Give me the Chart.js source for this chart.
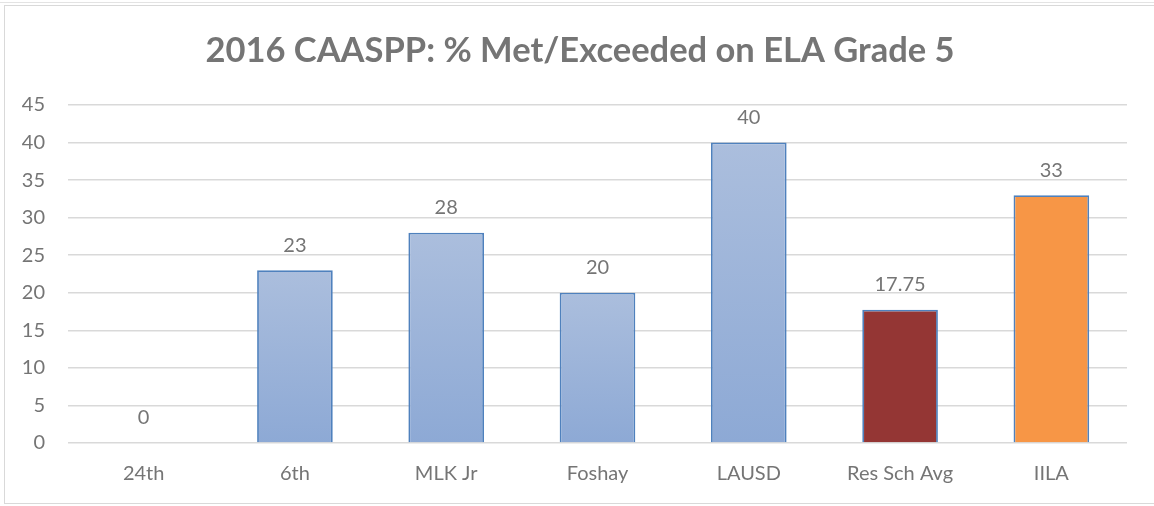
<!DOCTYPE html>
<html>
<head>
<meta charset="utf-8">
<script src="https://cdn.jsdelivr.net/npm/chart.js@4/dist/chart.umd.min.js"></script>
<style>
  body { margin: 0; background: #fff; }
  #wrap { position: relative; width: 1154px; height: 506px; }
  #frame { position: absolute; left: 4px; top: 5px; width: 1160px; height: 497px; border: 1px solid #d9d9d9; pointer-events: none; }
  #topline { position: absolute; left: 0; top: 2px; width: 1154px; border-top: 1px solid #e3e3e3; }
</style>
</head>
<body>
<div id="wrap">
  <canvas id="myChart" width="1154" height="506"></canvas>
  <div id="topline"></div>
  <div id="frame"></div>
</div>
<script>
const chartTitle = '2016 CAASPP: % Met/Exceeded on ELA Grade 5'
const schools = ["24th", "6th", "MLK Jr", "Foshay", "LAUSD", "Res Sch Avg", "IILA"]
const metPct = [0, 23, 28, 20, 40, 17.75, 33]
const yTicks = [0, 5, 10, 15, 20, 25, 30, 35, 40, 45]

const textGrey = '#757575'
const fontFam = 'Lato, "Open Sans", sans-serif'

function barFill(ctx) {
  const i = ctx.dataIndex
  if (schools[i] == "Res Sch Avg") return '#943634'
  if (schools[i] == "IILA") return '#f79646'
  const chart = ctx.chart
  const y = chart.scales.y
  if (!chart.chartArea || !y) return '#9db3da'
  const top = y.getPixelForValue(metPct[i])
  const bottom = y.getPixelForValue(0)
  if (!isFinite(top) || !isFinite(bottom) || bottom - top < 1) return '#9db3da'
  const g = chart.ctx.createLinearGradient(0, top, 0, bottom)
  g.addColorStop(0, '#abbedd')
  g.addColorStop(1, '#8da9d5')
  return g
}

// value labels above each bar + the title (the title sits a bit right of the plot centre)
const valueLabels = {
  id: 'valueLabels',
  afterDatasetsDraw(chart) {
    const c = chart.ctx
    const meta = chart.getDatasetMeta(0)
    c.save()
    c.font = '20px ' + fontFam
    c.fillStyle = textGrey
    c.textAlign = 'center'
    c.textBaseline = 'middle'
    meta.data.forEach((bar, i) => {
      c.fillText(String(metPct[i]), bar.x, bar.y - 25)
    })
    c.font = 'bold 34.5px ' + fontFam
    c.fillText(chartTitle, 580, 51)
    c.restore()
  }
}

const ctx = document.getElementById('myChart')
new Chart(ctx, {
  type: 'bar',
  data: {
    labels: schools,
    datasets: [{
      label: '% Met/Exceeded',
      data: metPct,
      backgroundColor: barFill,
      borderColor: '#4f81bd',
      borderWidth: 1.8,
      borderSkipped: 'bottom',
      barPercentage: 0.5,
      categoryPercentage: 1
    }]
  },
  plugins: [valueLabels],
  options: {
    responsive: false,
    animation: false,
    layout: { padding: { left: 4, right: 27, top: 105, bottom: 0 } },
    plugins: {
      legend: { display: false },
      tooltip: { enabled: false },
      title: { display: false }
    },
    scales: {
      x: {
        grid: { display: false, drawTicks: false },
        border: { display: false },
        ticks: { color: textGrey, font: { family: fontFam, size: 20 }, padding: 19 },
        afterFit(scale) { scale.height = 63 }
      },
      y: {
        min: 0,
        max: 45,
        afterBuildTicks(scale) { scale.ticks = yTicks.map(v => ({ value: v })) },
        grid: { color: '#d9d9d9', lineWidth: 1.5, drawTicks: false },
        border: { display: false },
        ticks: { color: textGrey, font: { family: fontFam, size: 20 }, padding: 23 },
        afterFit(scale) { scale.width = 64 }
      }
    }
  }
})
</script>
</body>
</html>
